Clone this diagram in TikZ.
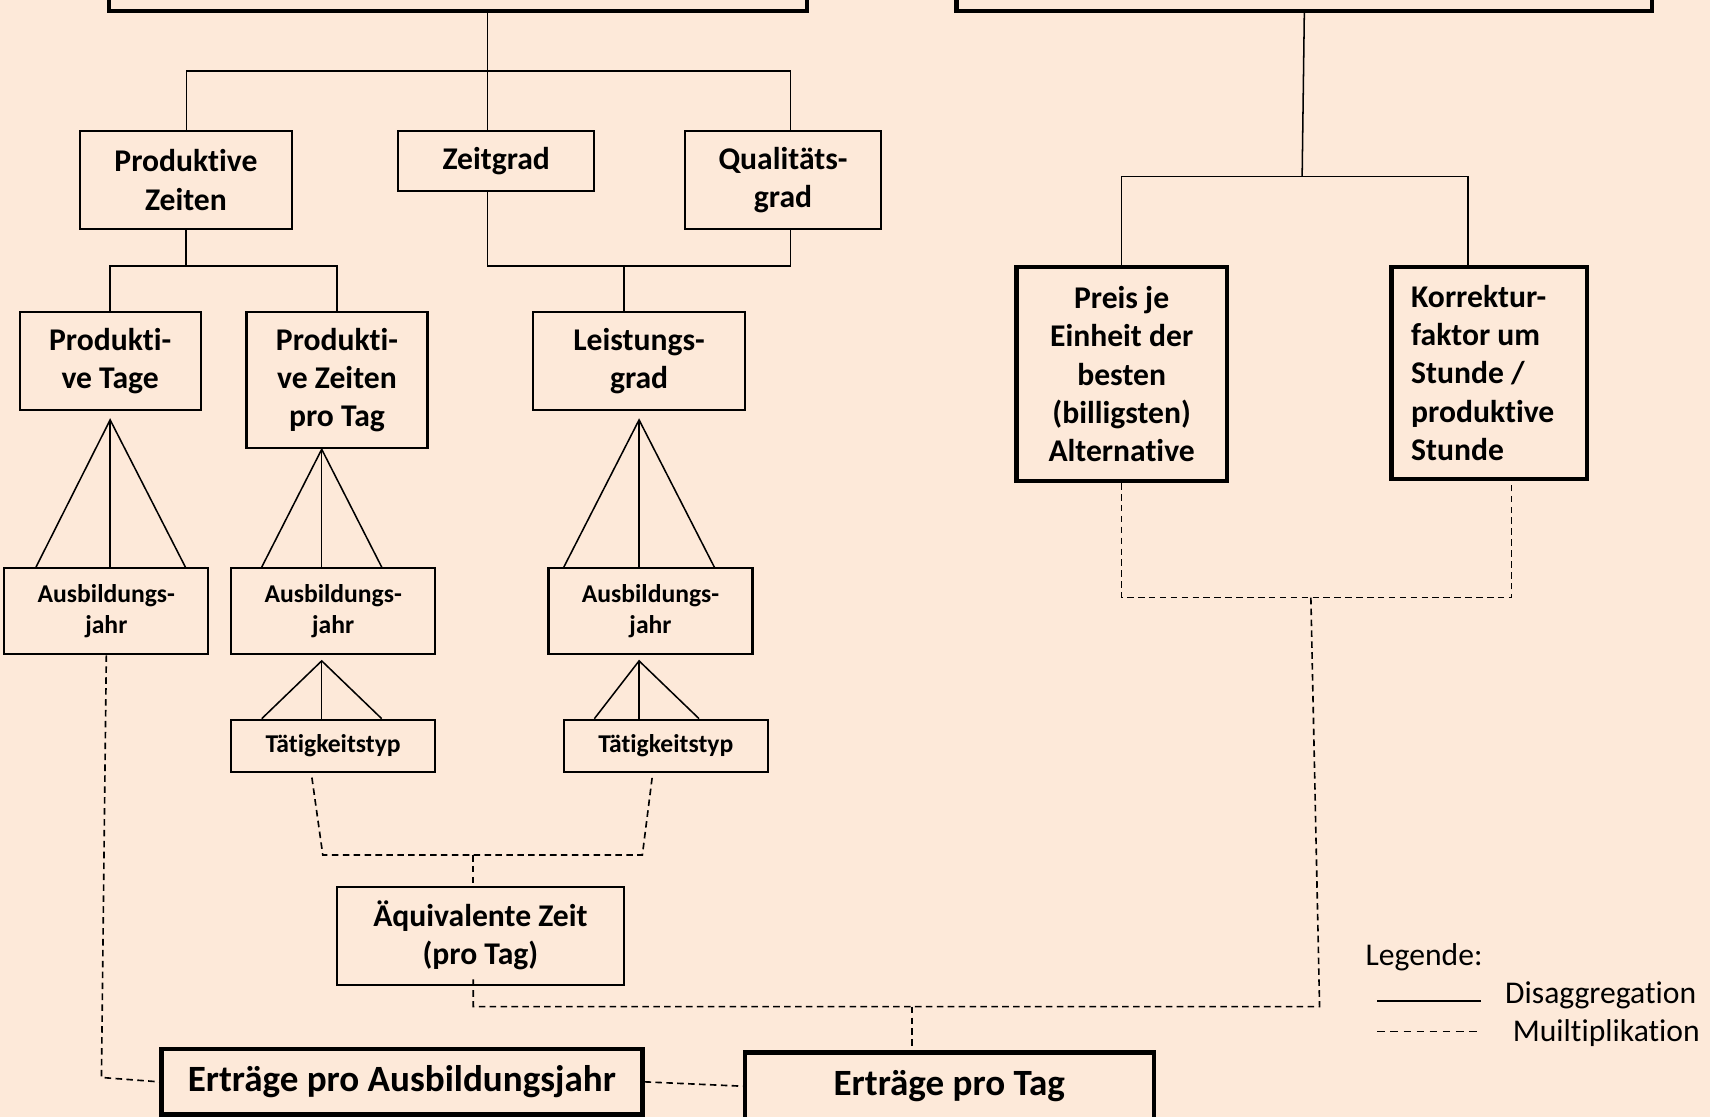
\documentclass[tikz,border=0pt]{standalone}
\usepackage{fontspec}
\setmainfont{Carlito}[RawFeature={-liga;-clig;-calt;-dlig}]
\usetikzlibrary{calc}
\definecolor{paper}{HTML}{FDE9D9}
\begin{document}
\begin{tikzpicture}[x=1pt,y=-1pt,
  disagg/.style={line width=1.4pt},
  mult/.style={line width=1.5pt, dash pattern=on 6pt off 4pt},
  box/.style={draw, line width=2pt, inner sep=0pt, align=center,
    font=\bfseries\fontsize{29}{35}\selectfont},
  smallbox/.style={box, font=\bfseries\fontsize{23.5}{29}\selectfont},
  heavybox/.style={box, line width=4pt},
  bigbox/.style={heavybox, font=\bfseries\fontsize{34}{40}\selectfont},
  legtext/.style={anchor=west, inner sep=0pt, font=\fontsize{29}{35}\selectfont},
]
\useasboundingbox (0,0) rectangle (1568,1024);
\fill[paper] (0,0) rectangle (1568,1024);
\clip (0,0) rectangle (1568,1024);

% top level boxes (only their lower edge is in view)
\node[heavybox, minimum width=640, minimum height=60] (tl) at (420,-20) {};
\node[heavybox, minimum width=638, minimum height=60] (tr) at (1196,-20) {};

% second level
\node[box, minimum width=195, minimum height=90] (pz) at (170.5,165) {Produktive\\Zeiten};
\node[box, minimum width=180, minimum height=55] (zg) at (455,147.5) {Zeitgrad};
\node[box, minimum width=180, minimum height=90] (qg) at (718,165) {Qualitäts-\\grad};

% third level
\node[box, minimum width=166, minimum height=90] (pt) at (101,331) {Produkti-\\ve Tage};
\node[box, minimum width=166, minimum height=125] (pzt) at (309,348.5) {Produkti-\\ve Zeiten\\pro Tag};
\node[box, minimum width=194, minimum height=90] (lg) at (586,331) {Leistungs-\\grad};

% training year
\node[smallbox, minimum width=187, minimum height=79] (aj1) at (97.5,560.5) {Ausbildungs-\\jahr};
\node[smallbox, minimum width=187, minimum height=79] (aj2) at (305.5,560.5) {Ausbildungs-\\jahr};
\node[smallbox, minimum width=187, minimum height=79] (aj3) at (596.5,560.5) {Ausbildungs-\\jahr};

% activity type
\node[smallbox, minimum width=187, minimum height=48] (tt1) at (305.5,684) {Tätigkeitstyp};
\node[smallbox, minimum width=187, minimum height=48] (tt2) at (610.5,684) {Tätigkeitstyp};

% equivalent time
\node[box, minimum width=263, minimum height=90] (aqz) at (440.5,858) {Äquivalente Zeit\\(pro Tag)};

% right branch
\node[heavybox, minimum width=193, minimum height=196] (pj) at (1028.5,343)
  {Preis je\\Einheit der\\besten\\(billigsten)\\Alternative};
\node[heavybox, minimum width=179, minimum height=194, text width=143pt, align=flush left] (kf) at (1365.5,342)
  {Korrektur-\\faktor um\\Stunde /\\produktive\\Stunde};

% results
\node[bigbox, minimum width=441, minimum height=60] (eaj) at (368.5,992) {Erträge pro Ausbildungsjahr};
\node[bigbox, minimum width=375, minimum height=62] (ept) at (870.5,996) {Erträge pro Tag};

% ---- disaggregation (solid) ----
\coordinate (j1) at (447,65);
\coordinate (b1l) at (171,65);
\coordinate (b1r) at (725,65);
\draw[disagg] (j1 |- tl.south) -- (j1 |- zg.north);
\draw[disagg] (b1l |- pz.north) -- (b1l) -- (b1r) -- (b1r |- qg.north);

\coordinate (b2l) at (101,244);
\coordinate (b2r) at (309,244);
\draw[disagg] (pz.south) -- (pz.south |- b2l);
\draw[disagg] (pt.north) -- (pt.north |- b2l) -- (pzt.north |- b2r) -- (pzt.north);

\coordinate (b3l) at (447,244);
\coordinate (b3r) at (725,244);
\coordinate (b3m) at (572,244);
\draw[disagg] (b3l |- zg.south) -- (b3l) -- (b3r) -- (b3r |- qg.south);
\draw[disagg] (b3m) -- (b3m |- lg.north);

\coordinate (b4) at (1194,162);
\coordinate (b4r) at (1346,162);
\draw[disagg] (tr.south) -- (b4);
\draw[disagg] (pj.north) -- (pj.north |- b4) -- (b4r) -- (b4r |- kf.north);

% fans
\coordinate (f1) at ($(pt.south)+(0,8)$);
\draw[disagg] ($(aj1.north)+(-64.5,0)$) -- (f1) -- ($(aj1.north)+(72.5,0)$);
\draw[disagg] (f1) -- ($(aj1.north)+(3.5,0)$);

\coordinate (f2) at ($(pzt.south)+(-14,0)$);
\draw[disagg] ($(aj2.north)+(-65.5,0)$) -- (f2) -- ($(aj2.north)+(44.5,0)$);
\draw[disagg] (f2) -- ($(aj2.north)+(-10.5,0)$);

\coordinate (f3) at ($(lg.south)+(0,8)$);
\draw[disagg] ($(aj3.north)+(-79.5,0)$) -- (f3) -- ($(aj3.north)+(58.5,0)$);
\draw[disagg] (f3) -- ($(aj3.north)+(-10.5,0)$);

\coordinate (f4) at ($(aj2.south)+(-10.5,5)$);
\draw[disagg] ($(tt1.north)+(-65.5,0)$) -- (f4) -- ($(tt1.north)+(44.5,0)$);
\draw[disagg] (f4) -- ($(tt1.north)+(-10.5,0)$);

\coordinate (f5) at ($(aj3.south)+(-10.5,5)$);
\draw[disagg] ($(tt2.north)+(-65.5,0)$) -- (f5) -- ($(tt2.north)+(30.5,0)$);
\draw[disagg] (f5) -- ($(tt2.north)+(-24.5,0)$);

% ---- multiplication (dashed) ----
\coordinate (m1) at (434,784);
\draw[mult] ($(tt1.south)+(-19.5,4)$) -- (296,784) -- (589,784) -- ($(tt2.south)+(-12.5,4)$);
\draw[mult] (m1) -- (m1 |- aqz.north);

\coordinate (m2) at (434,923);
\coordinate (m3) at (1210,923);
\coordinate (m4) at (1202,548);
\coordinate (m5) at (836,923);
\draw[mult] ($(m2 |- aqz.south)+(0,-6)$) -- (m2) -- (m3) -- (m4);
\draw[mult] (pj.south) -- (pj.south |- m4) -- (1386,548) -- (1386,439);
\draw[mult] (m5) -- (m5 |- ept.north);

\draw[mult] (aj1.south) -- (93,988) -- (eaj.west);
\draw[mult] (eaj.east) -- (ept.west);

% ---- legend ----
\node[legtext] (leg) at (1252,878) {Legende:};
\coordinate (l1a) at (1263,918);
\coordinate (l1b) at (1358,918);
\coordinate (l2a) at (1263,946);
\coordinate (l2b) at (1358,946);
\draw[disagg] (l1a) -- (l1b);
\draw[line width=1.5pt, dash pattern=on 7pt off 5pt] (l2a) -- (l2b);
\node[legtext] (ld) at (1380,913) {Disaggregation};
\node[legtext] (lm) at (1387,947) {Muiltiplikation};
\end{tikzpicture}
\end{document}
